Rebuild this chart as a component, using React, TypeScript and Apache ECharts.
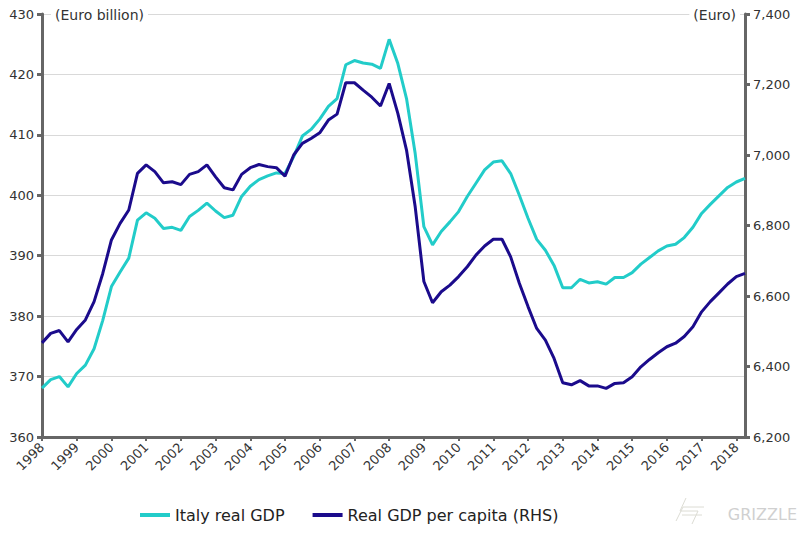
import React, { useEffect, useRef } from "react";
import * as echarts from "echarts";

// Quarterly, 1998 Q1 .. 2018 Q2
const years: number[] = [];
for (let y = 1998; y <= 2018; y++) years.push(y);

const quarters: string[] = [];
years.forEach((y) => {
  for (let q = 1; q <= 4; q++) quarters.push(`${y} Q${q}`);
});
const categories = quarters.slice(0, 82);

// Italy real GDP (Euro billion, LHS)
const realGdp = [
  368.1, 369.5, 370.0, 368.3, 370.5, 371.9, 374.6, 379.3, 384.9, 387.3,
  389.6, 395.9, 397.1, 396.2, 394.5, 394.7, 394.2, 396.5, 397.5, 398.7,
  397.4, 396.3, 396.7, 399.8, 401.5, 402.6, 403.2, 403.7, 403.6, 406.4,
  409.8, 410.9, 412.6, 414.7, 416.0, 421.6, 422.3, 421.9, 421.7, 421.0,
  425.8, 421.8, 416.0, 406.9, 394.8, 391.8, 394.0, 395.6, 397.3, 399.8,
  402.0, 404.2, 405.5, 405.7, 403.6, 400.0, 396.2, 392.7, 390.9, 388.4,
  384.7, 384.7, 386.1, 385.5, 385.7, 385.3, 386.4, 386.4, 387.2, 388.6,
  389.7, 390.8, 391.6, 391.9, 393.0, 394.7, 397.0, 398.5, 399.9, 401.3,
  402.2, 402.8,
];

// Real GDP per capita (Euro, RHS)
const perCapita = [
  6467, 6494, 6502, 6470, 6505, 6532, 6584, 6664, 6759, 6806,
  6844, 6948, 6972, 6953, 6921, 6924, 6916, 6945, 6953, 6972,
  6938, 6907, 6901, 6945, 6964, 6973, 6967, 6964, 6940, 7000,
  7033, 7047, 7063, 7099, 7116, 7205, 7205, 7184, 7164, 7139,
  7203, 7118, 7014, 6853, 6641, 6581, 6612, 6631, 6655, 6683,
  6716, 6742, 6761, 6761, 6711, 6636, 6570, 6508, 6475, 6423,
  6354, 6348, 6360, 6345, 6345, 6338, 6352, 6354, 6371, 6399,
  6420, 6439, 6456, 6466, 6485, 6513, 6555, 6584, 6609, 6634,
  6655, 6664,
];

const leftTicks = { min: 360, max: 430, interval: 10 };
const rightTicks = { min: 6200, max: 7400, interval: 200 };

const seriesNames = ["Italy real GDP", "Real GDP per capita (RHS)"];
const colors = ["#22CCC9", "#1B0B8C"];

const FONT = "'DejaVu Sans', sans-serif";

export default function App() {
  const ref = useRef<HTMLDivElement>(null);

  useEffect(() => {
    if (!ref.current) return;
    const chart = echarts.init(ref.current, undefined, { renderer: "svg" });
    const axisLineStyle = { color: "#666666", width: 3 };
    const logoStroke = { stroke: "#dcdcd4", lineWidth: 1, fill: "none" };
    chart.setOption({
      animation: false,
      backgroundColor: "#ffffff",
      textStyle: { fontFamily: FONT },
      grid: { left: 42, right: 55, top: 14, bottom: 97, containLabel: false },
      legend: {
        data: seriesNames,
        top: 502,
        left: 135,
        icon: "rect",
        itemWidth: 30,
        itemHeight: 4,
        itemGap: 28,
        textStyle: { fontFamily: FONT, fontSize: 16, color: "#222" },
      },
      xAxis: {
        type: "category",
        data: categories,
        boundaryGap: false,
        axisLine: { lineStyle: axisLineStyle },
        axisTick: { interval: 3, length: 4, lineStyle: { color: "#666", width: 2 } },
        axisLabel: {
          interval: 3,
          rotate: 45,
          fontSize: 13,
          color: "#333",
          margin: 8,
          formatter: (v: string) => v.slice(0, 4),
        },
        splitLine: { show: false },
      },
      yAxis: [
        {
          type: "value",
          ...leftTicks,
          position: "left",
          axisLine: { show: true, lineStyle: axisLineStyle },
          axisTick: { show: true, length: 5, lineStyle: { color: "#666", width: 3 } },
          axisLabel: { fontSize: 13, color: "#333", margin: 8 },
          splitLine: { show: true, lineStyle: { color: "#d9d9d9", width: 1 } },
        },
        {
          type: "value",
          ...rightTicks,
          position: "right",
          axisLine: { show: true, lineStyle: axisLineStyle },
          axisTick: { show: true, length: 5, lineStyle: { color: "#666", width: 3 } },
          axisLabel: {
            fontSize: 13,
            color: "#333",
            margin: 8,
            formatter: (v: number) => v.toLocaleString("en-US"),
          },
          splitLine: { show: false },
        },
      ],
      graphic: [
        {
          type: "text",
          left: 51,
          top: 6,
          z: 10,
          style: {
            text: "(Euro billion)",
            fontFamily: FONT,
            fontSize: 14,
            fill: "#333",
            backgroundColor: "#fff",
            padding: [2, 4],
          },
        },
        {
          type: "text",
          right: 60,
          top: 6,
          z: 10,
          style: {
            text: "(Euro)",
            fontFamily: FONT,
            fontSize: 14,
            fill: "#333",
            backgroundColor: "#fff",
            padding: [2, 4],
          },
        },
        {
          type: "polyline",
          shape: { points: [[686, 498], [680, 511], [698, 511], [692, 524]] },
          style: logoStroke,
        },
        {
          type: "polyline",
          shape: { points: [[676, 521], [683, 507], [704, 507]] },
          style: logoStroke,
        },
        {
          type: "line",
          shape: { x1: 682, y1: 515, x2: 702, y2: 515 },
          style: logoStroke,
        },
        {
          type: "text",
          right: 3,
          top: 506,
          style: {
            text: "GRIZZLE",
            fontFamily: FONT,
            fontSize: 16,
            fill: "#d0d0d0",
          },
        },
      ],
      series: [
        {
          name: seriesNames[0],
          type: "line",
          data: realGdp,
          yAxisIndex: 0,
          symbol: "none",
          lineStyle: { color: colors[0], width: 3 },
          itemStyle: { color: colors[0] },
          z: 3,
        },
        {
          name: seriesNames[1],
          type: "line",
          data: perCapita,
          yAxisIndex: 1,
          symbol: "none",
          lineStyle: { color: colors[1], width: 3 },
          itemStyle: { color: colors[1] },
          z: 4,
        },
      ],
    });
    return () => chart.dispose();
  }, []);

  return (
    <div
      ref={ref}
      style={{ position: "absolute", left: 0, top: 0, width: 800, height: 534 }}
    />
  );
}
